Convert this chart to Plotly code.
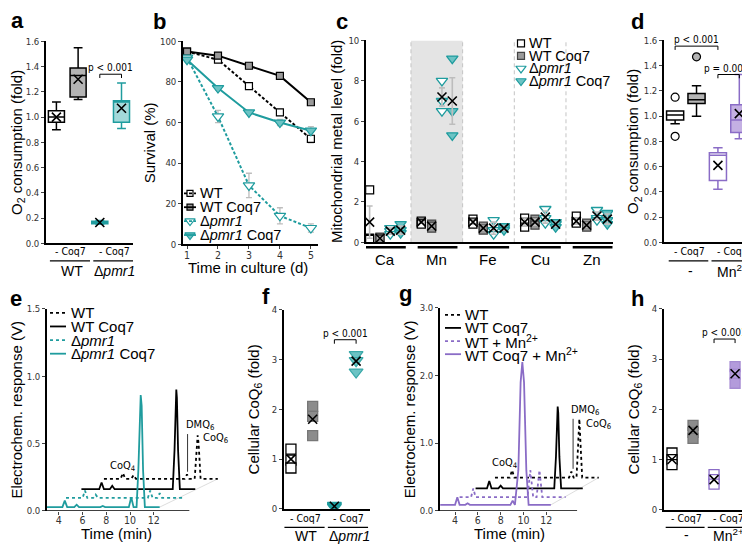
import plotly.graph_objects as go

W, H = 750, 544
TEAL = "#1f9c9e"
TEAL_L = "#a3d9da"
TEAL_M = "#6cc3c4"
PURP = "#8a6cc6"
PURP_L = "#c4b0e3"
GRAY = "#b4b4b4"
ERR = "#bdbdbd"
NARROW = "Liberation Sans Narrow, DejaVu Sans Condensed, Liberation Sans, Arial, sans-serif"
SANS = "Liberation Sans, Arial, sans-serif"
PMR1 = "Δ<i>pmr1</i>"

# ---- a: O2 consumption (WT -, WT Coq7, pmr1 -, pmr1 Coq7) ----
a_q1 = [0.96, 1.16, 0.155, 0.96]
a_med = [1.00, 1.33, 0.165, 1.12]
a_q3 = [1.05, 1.39, 0.175, 1.13]
a_lo = [0.90, 1.14, 0.15, 0.91]
a_hi = [1.12, 1.55, 0.18, 1.27]
a_mean = [1.00, 1.30, 0.165, 1.07]

# ---- b: survival (%) ----
b_days = [1, 2, 3, 4, 5]
b_wt = [95, 91, 78, 65, 52]
b_wt_err = [1, 1, 1, 1.5, 2]
b_wt_coq7 = [95, 93, 88, 83, 70]
b_wt_coq7_err = [1, 1, 1, 1, 1]
b_pmr1 = [92, 63, 29, 14, 8]
b_pmr1_err = [1, 3, 6, 4, 2]
b_pmr1_coq7 = [91, 77, 65, 60, 56]
b_pmr1_coq7_err = [1, 1, 1, 1.5, 2]

# ---- c: mitochondrial metal level (fold) ----
c_metals = ["Ca", "Mn", "Fe", "Cu", "Zn"]
c_wt = [[2.6, 0.2, 0.15], [1.05, 0.95, 0.9], [1.15, 1.0, 0.9], [1.2, 1.0, 0.75], [1.3, 1.0, 0.95]]
c_wt_coq7 = [[0.25, 0.2, 0.15], [0.9, 0.8, 0.7], [0.8, 0.65, 0.6], [1.15, 1.0, 0.85], [0.95, 0.8, 0.75]]
c_pmr1 = [[0.7, 0.55, 0.4], [8.0, 7.0, 6.5], [1.1, 0.6, 0.4], [1.65, 1.2, 0.95], [1.6, 1.2, 1.1]]
c_pmr1_coq7 = [[0.9, 0.6, 0.45], [9.1, 6.5, 5.3], [0.8, 0.7, 0.6], [1.0, 0.9, 0.75], [1.45, 1.1, 0.9]]
c_wt_mean = [1.0, 1.0, 1.0, 1.0, 1.05]
c_wt_sd = [0.8, 0.05, 0.1, 0.2, 0.15]
c_wt_coq7_mean = [0.2, 0.8, 0.7, 1.0, 0.85]
c_wt_coq7_sd = [0.05, 0.1, 0.1, 0.15, 0.1]
c_pmr1_mean = [0.55, 7.2, 0.7, 1.25, 1.3]
c_pmr1_sd = [0.15, 0.45, 0.3, 0.3, 0.2]
c_pmr1_coq7_mean = [0.6, 7.0, 0.7, 0.9, 1.15]
c_pmr1_coq7_sd = [0.2, 1.15, 0.1, 0.1, 0.25]

# ---- d: O2 consumption with Mn2+ (-, Coq7, Mn -, Mn Coq7) ----
d_q1 = [0.97, 1.10, 0.49, 0.87]
d_med = [1.01, 1.13, 0.69, 0.97]
d_q3 = [1.04, 1.18, 0.71, 1.09]
d_lo = [0.94, 1.00, 0.42, 0.82]
d_hi = [1.04, 1.24, 0.75, 1.33]
d_mean = [None, None, 0.61, 1.02]
d_out_cat = [0, 0, 1]
d_out_val = [1.15, 0.84, 1.47]

# ---- e: electrochemical traces ----
e_pc_t = [3.0, 4.3, 4.5, 4.7, 5.3, 5.5, 5.7, 7.5, 7.7, 7.9, 9.9, 10.1, 10.3, 10.55, 10.7, 10.82, 10.9, 10.98, 11.1, 11.25, 12.5]
e_pc_v = [0.027, 0.027, 0.075, 0.027, 0.027, 0.045, 0.027, 0.027, 0.035, 0.027, 0.027, 0.1, 0.027, 0.027, 0.3, 0.78, 0.86, 0.78, 0.3, 0.027, 0.027]
e_p_t = [4.6, 6.0, 6.2, 6.4, 6.9, 7.1, 7.3, 11.5, 11.7, 11.9, 12.3, 12.5, 12.7, 14.4]
e_p_v = [0.095, 0.095, 0.15, 0.095, 0.095, 0.12, 0.095, 0.095, 0.15, 0.095, 0.095, 0.13, 0.095, 0.095]
e_wc_t = [5.9, 7.4, 7.6, 7.8, 8.3, 8.5, 8.7, 13.6, 13.75, 13.85, 13.9, 13.95, 14.05, 14.2, 15.5]
e_wc_v = [0.16, 0.16, 0.21, 0.16, 0.16, 0.185, 0.16, 0.16, 0.45, 0.84, 0.9, 0.84, 0.45, 0.16, 0.16]
e_w_t = [7.8, 9.2, 9.4, 9.6, 10.1, 10.3, 10.5, 14.6, 14.8, 15.0, 15.45, 15.62, 15.7, 15.78, 15.95, 17.4]
e_w_v = [0.237, 0.237, 0.28, 0.237, 0.237, 0.265, 0.237, 0.237, 0.27, 0.237, 0.237, 0.5, 0.56, 0.5, 0.237, 0.237]

# ---- f: cellular CoQ6 (fold) ----
f_wt = [1.2, 0.98, 0.82]
f_wt_coq7 = [2.06, 1.86, 1.47]
f_pmr1 = [0.07, 0.05, 0.03]
f_pmr1_coq7 = [3.1, 2.98, 2.75]
f_mean = [1.0, 1.8, 0.05, 2.97]

# ---- g: electrochemical traces with Mn2+ ----
g_mc_t = [2.7, 4.0, 4.2, 4.4, 4.9, 5.1, 5.3, 8.85, 9.05, 9.25, 9.55, 9.75, 9.9, 10.05, 10.25, 10.45, 12.4]
g_mc_v = [0.087, 0.087, 0.2, 0.087, 0.087, 0.11, 0.087, 0.087, 0.15, 0.087, 0.6, 1.9, 2.2, 1.9, 0.6, 0.087, 0.087]
g_m_t = [4.4, 5.4, 5.6, 5.8, 10.35, 10.6, 10.85, 11.15, 11.4, 11.65, 13.7]
g_m_v = [0.2, 0.2, 0.33, 0.2, 0.2, 0.6, 0.2, 0.2, 0.6, 0.2, 0.2]
g_wc_t = [5.8, 6.8, 7.0, 7.2, 7.8, 8.0, 8.2, 12.7, 12.85, 12.95, 13.0, 13.05, 13.15, 13.3, 15.2]
g_wc_v = [0.33, 0.33, 0.44, 0.33, 0.33, 0.37, 0.33, 0.33, 0.8, 1.45, 1.54, 1.45, 0.8, 0.33, 0.33]
g_w_t = [7.5, 8.8, 9.0, 9.2, 14.0, 14.2, 14.4, 14.65, 14.8, 14.9, 15.0, 15.15, 16.6]
g_w_v = [0.49, 0.49, 0.6, 0.49, 0.49, 0.58, 0.49, 0.49, 1.0, 1.36, 1.0, 0.49, 0.49]

# ---- h: cellular CoQ6 with Mn2+ ----
h_ctrl = [1.13, 1.0, 0.9]
h_coq7 = [1.68, 1.54, 1.42]
h_mn = [0.7, 0.6, 0.51]
h_mn_coq7 = [2.85, 2.7, 2.52]
h_mean = [1.0, 1.58, 0.6, 2.71]

# panel frames in pixels: letter, x0, x1, ytop, ybottom, xrange, yrange, yticks, title standoff
PANELS = [
    ("a", 38, 125, 28, 234, [-0.48, 3.53], [0, 1.6], [0, 0.2, 0.4, 0.6, 0.8, 1.0, 1.2, 1.4, 1.6], 3),
    ("b", 175, 310, 28, 235, [0.87, 5.23], [0, 100], [0, 20, 40, 60, 80, 100], 1),
    ("c", 358, 605, 27, 233, [-0.37, 4.41], [0, 10], [0, 2, 4, 6, 8, 10], 2),
    ("d", 656, 745, 27, 233, [-0.52, 3.64], [0, 1.6], [0, 0.2, 0.4, 0.6, 0.8, 1.0, 1.2, 1.4, 1.6], 1),
    ("e", 39, 211, 301, 507, [3.0, 17.5], [0, 1.5], [0, 0.5, 1.0, 1.5], 3),
    ("f", 276, 362, 302, 505, [-0.32, 3.64], [0, 4], [0, 1, 2, 3, 4], 9),
    ("g", 432, 601, 300, 507, [2.68, 17.5], [0, 3], [0, 1.0, 2.0, 3.0], 0),
    ("h", 656, 742, 301, 506, [-0.38, 3.71], [0, 4], [0, 1, 2, 3, 4], 9),
]
YTITLES = ["O<sub>2</sub> consumption (fold)", "Survival (%)", "Mitochondrial metal level (fold)",
           "O<sub>2</sub> consumption (fold)", "Electrochem. response (V)", "Cellular CoQ<sub>6</sub> (fold)",
           "Electrochem. response (V)", "Cellular CoQ<sub>6</sub> (fold)"]
LETTERS = [(1, 7), (143, 8), (326, 8), (621, 8), (0, 290), (252, 288), (389, 285), (621, 290)]


def xa(n):
    return "x" if n == 1 else f"x{n}"


def ya(n):
    return "y" if n == 1 else f"y{n}"


fig = go.Figure()
layout = dict(width=W, height=H, margin=dict(l=0, r=0, t=0, b=0), paper_bgcolor="white",
              plot_bgcolor="rgba(0,0,0,0)", showlegend=False, font=dict(family=SANS, color="black", size=12))
annotations, shapes = [], []

for i, (let, x0, x1, yt, yb, xr, yr, yt_vals, so) in enumerate(PANELS):
    n = i + 1
    sfx = "" if n == 1 else str(n)
    one_dec = let in "adeg"
    layout["xaxis" + sfx] = dict(domain=[x0 / W, x1 / W], range=xr, anchor=ya(n), showgrid=False,
                                 zeroline=False, showline=True, linecolor="black", linewidth=1.6,
                                 showticklabels=False, ticks="", fixedrange=True)
    layout["yaxis" + sfx] = dict(domain=[1 - yb / H, 1 - yt / H], range=yr, anchor=xa(n), showgrid=False,
                                 zeroline=False, showline=True, linecolor="black", linewidth=1.6,
                                 ticks="outside", ticklen=3, tickwidth=1, tickvals=yt_vals,
                                 ticktext=[f"{v:.1f}" if one_dec else f"{v:g}" for v in yt_vals],
                                 tickfont=dict(family=NARROW, size=9.5, color="#333"), fixedrange=True,
                                 title=dict(text=YTITLES[i], font=dict(size=15), standoff=so))

# overlay in pixel units for panel letters, hand-made legends and label rows
layout["xaxis9"] = dict(domain=[0, 1], range=[0, W], anchor="y9", visible=False, fixedrange=True)
layout["yaxis9"] = dict(domain=[0, 1], range=[H, 0], anchor="x9", visible=False, fixedrange=True)
for i, (lx, ly) in enumerate(LETTERS):
    annotations.append(dict(text=f"<b>{PANELS[i][0]}</b>", x=lx, y=ly, xref="x9", yref="y9", showarrow=False,
                            xanchor="left", yanchor="middle", font=dict(size=22, family=SANS)))

# time axes (b, e, g) get tick labels; titles placed as text
for n, vals, title, tx, ty in [(2, [1, 2, 3, 4, 5], "Time in culture (d)", 240, 259),
                               (5, [4, 6, 8, 10, 12], "Time (min)", 108, 530),
                               (7, [4, 6, 8, 10, 12], "Time (min)", 501, 530)]:
    layout[f"xaxis{n}"].update(showticklabels=True, ticks="outside", ticklen=3, tickvals=vals,
                               ticklabelstandoff=-3,
                               tickfont=dict(family=NARROW, size=10.5, color="#333"))
    annotations.append(dict(text=title, x=tx, y=ty, xref="x9", yref="y9", showarrow=False,
                            font=dict(size=15)))
for n, tend in [(5, 15.0), (7, 14.7)]:
    layout[f"xaxis{n}"]["showline"] = False
    shapes.append(dict(type="line", xref=f"x{n}", yref=f"y{n}", x0=layout[f"xaxis{n}"]["range"][0], x1=tend,
                       y0=0, y1=0, line=dict(color="black", width=1.6)))


def mean_x(n, xs, ys, err=None):
    fig.add_trace(go.Scatter(x=xs, y=ys, mode="markers", xaxis=xa(n), yaxis=ya(n), hoverinfo="skip",
                             marker=dict(symbol="x-thin", size=9, line=dict(width=1.6, color="black")),
                             error_y=None if err is None else dict(type="data", array=err, color=ERR,
                                                                   thickness=1.6, width=3)))


def box(n, pos, q1, med, q3, lo, hi, fill, line, width=0.74):
    fig.add_trace(go.Box(x=[pos], q1=[q1], median=[med], q3=[q3], lowerfence=[lo], upperfence=[hi],
                         width=width, whiskerwidth=0.55, fillcolor=fill, line=dict(color=line, width=1.5),
                         xaxis=xa(n), yaxis=ya(n), hoverinfo="skip", boxpoints=False))


def bracket(n, c0, c1, yv, dy, text, shift=0):
    shapes.append(dict(type="path", xref=xa(n), yref=ya(n),
                       path=f"M {c0},{yv - dy} L {c0},{yv} L {c1},{yv} L {c1},{yv - dy}",
                       line=dict(color="black", width=1)))
    annotations.append(dict(text=text, x=(c0 + c1) / 2, y=yv, xref=xa(n), yref=ya(n), showarrow=False,
                            yanchor="bottom", yshift=-1, xshift=shift, font=dict(family=NARROW, size=10)))


def cat_labels(n, axis_y, groups, gap=29):
    for label, c0, c1 in groups:
        annotations.append(dict(text="- Coq7", x=c0 - 0.15, y=axis_y + 9, xref=xa(n), yref="y9",
                                xanchor="left", showarrow=False, font=dict(family=NARROW, size=10.5)))
        shapes.append(dict(type="line", xref=xa(n), yref="y9", x0=c0 - 0.3, x1=c1 + 0.55,
                           y0=axis_y + 19, y1=axis_y + 19, line=dict(color="black", width=1.3)))
        annotations.append(dict(text=label, x=(c0 + c1) / 2 + 0.2, y=axis_y + gap, xref=xa(n), yref="y9",
                                showarrow=False, font=dict(size=14)))


def legend(x_sym, x_text, y0, dy, items, half=6, fsize=15):
    for k, (label, col, dash, sym, fill, size) in enumerate(items):
        yy = y0 + k * dy
        if dash is not None:
            shapes.append(dict(type="line", xref="x9", yref="y9", x0=x_sym - half, x1=x_sym + half, y0=yy, y1=yy,
                               line=dict(color=col, width=1.8, dash=dash)))
        if sym is not None:
            fig.add_trace(go.Scatter(x=[x_sym], y=[yy], mode="markers", xaxis="x9", yaxis="y9", hoverinfo="skip",
                                     marker=dict(symbol=sym, size=size, color=fill, line=dict(color=col, width=1.2))))
        annotations.append(dict(text=label, x=x_text, y=yy, xref="x9", yref="y9", showarrow=False,
                                xanchor="left", yanchor="middle", font=dict(size=fsize)))


# ---- panel a ----
a_fill = ["white", GRAY, TEAL, TEAL_L]
a_line = ["black", "black", TEAL, TEAL]
for k in range(4):
    box(1, k, a_q1[k], a_med[k], a_q3[k], a_lo[k], a_hi[k], a_fill[k], a_line[k])
mean_x(1, [0, 1, 2, 3], a_mean)
bracket(1, 2, 3, 1.34, 0.03, "p < 0.001")
cat_labels(1, 233, [("WT", 0, 1), (PMR1, 2, 3)])

# ---- panel b ----
b_series = [
    ("WT", b_wt, b_wt_err, "black", "3px,2px", "square", "white", 7),
    ("WT Coq7", b_wt_coq7, b_wt_coq7_err, "black", "solid", "square", "#9a9a9a", 7),
    (PMR1, b_pmr1, b_pmr1_err, TEAL, "3px,2px", "triangle-down", "white", 10),
    (PMR1 + " Coq7", b_pmr1_coq7, b_pmr1_coq7_err, TEAL, "solid", "triangle-down", TEAL_M, 10),
]
for name, vals, err, col, dash, sym, fill, size in b_series:
    fig.add_trace(go.Scatter(x=b_days, y=vals, name=name, mode="lines+markers", xaxis="x2", yaxis="y2",
                             line=dict(color=col, width=2, dash=dash), hoverinfo="skip",
                             marker=dict(symbol=sym, size=size, color=fill, line=dict(color=col, width=1.2)),
                             error_y=dict(type="data", array=err, color=ERR, thickness=1.3, width=3)))
legend(182, 190, 183, 14.2, [(s[0], s[3], s[4], s[5], s[6], s[7] - 1) for s in b_series], half=6, fsize=14.5)

# ---- panel c ----
offs = [-0.3, -0.1, 0.1, 0.3]
c_series = [
    ("WT", c_wt, c_wt_mean, c_wt_sd, "square", "white", "black", 8),
    ("WT Coq7", c_wt_coq7, c_wt_coq7_mean, c_wt_coq7_sd, "square", "#9a9a9a", "#444", 8),
    (PMR1, c_pmr1, c_pmr1_mean, c_pmr1_sd, "triangle-down", "white", TEAL, 10),
    (PMR1 + " Coq7", c_pmr1_coq7, c_pmr1_coq7_mean, c_pmr1_coq7_sd, "triangle-down", TEAL_M, TEAL, 10),
]
shapes.append(dict(type="rect", xref="x3", yref="y3", x0=0.5, x1=1.5, y0=0, y1=10, fillcolor="#e4e4e4",
                   line_width=0, layer="below"))
for b in [0.5, 1.5, 2.5, 3.5]:
    shapes.append(dict(type="line", xref="x3", yref="y3", x0=b, x1=b, y0=0, y1=10, layer="below",
                       line=dict(color="#c4c4c4", width=1, dash="4px,3px")))
for j, (name, pts, mean, sd, sym, fill, col, size) in enumerate(c_series):
    xs, ys = [], []
    for m in range(len(c_metals)):
        for v in pts[m]:
            xs.append(m + offs[j])
            ys.append(v)
    fig.add_trace(go.Scatter(x=xs, y=ys, mode="markers", name=name, xaxis="x3", yaxis="y3", hoverinfo="skip",
                             marker=dict(symbol=sym, size=size, color=fill, line=dict(color=col, width=1.3))))
for j, (name, pts, mean, sd, sym, fill, col, size) in enumerate(c_series):
    mean_x(3, [m + offs[j] for m in range(len(c_metals))], mean, sd)
for m, metal in enumerate(c_metals):
    shapes.append(dict(type="line", xref="x3", yref="y9", x0=m - 0.37, x1=m + 0.4, y0=238, y1=238,
                       line=dict(color="black", width=2.5)))
    annotations.append(dict(text=metal, x=m, y=251, xref="x3", yref="y9", showarrow=False, font=dict(size=15)))
legend(513, 519, 30, 12.8, [(s[0], s[6], None, s[4], s[5], s[7] - 1) for s in c_series], fsize=14.5)

# ---- panel d ----
d_fill = ["white", GRAY, "white", PURP_L]
d_line = ["black", "black", PURP, PURP]
for k in range(4):
    box(4, k, d_q1[k], d_med[k], d_q3[k], d_lo[k], d_hi[k], d_fill[k], d_line[k], width=0.8)
fig.add_trace(go.Scatter(x=d_out_cat, y=d_out_val, mode="markers", xaxis="x4", yaxis="y4", hoverinfo="skip",
                         marker=dict(symbol="circle", size=8, color=["white", "white", GRAY],
                                     line=dict(color="black", width=1.2))))
mean_x(4, [0, 1, 2, 3], d_mean)
bracket(4, 0, 2, 1.555, 0.03, "p < 0.001")
bracket(4, 2, 3, 1.33, 0.03, "p = 0.002", shift=-2)
cat_labels(4, 233, [("-", 0, 1), ("Mn<sup>2+</sup>", 2, 3)])


# ---- chromatograms e and g ----
def trace_set(n, series):
    for name, t, v, col, dash in series:
        fig.add_trace(go.Scatter(x=t, y=v, name=name, mode="lines", xaxis=xa(n), yaxis=ya(n), hoverinfo="skip",
                                 line=dict(color=col, width=1.8, dash=dash)))
    ends = [(s[1][-1], s[2][-1]) for s in series]
    shapes.append(dict(type="line", xref=xa(n), yref=ya(n), x0=ends[-1][0], y0=ends[-1][1], x1=ends[0][0],
                       y1=ends[0][1], layer="below", line=dict(color="#d4d4d4", width=0.8)))


e_series = [("WT", e_w_t, e_w_v, "black", "dot"), ("WT Coq7", e_wc_t, e_wc_v, "black", "solid"),
            (PMR1, e_p_t, e_p_v, TEAL, "dot"), (PMR1 + " Coq7", e_pc_t, e_pc_v, TEAL, "solid")]
g_series = [("WT", g_w_t, g_w_v, "black", "dot"), ("WT Coq7", g_wc_t, g_wc_v, "black", "solid"),
            ("WT + Mn<sup>2+</sup>", g_m_t, g_m_v, PURP, "dot"),
            ("WT Coq7 + Mn<sup>2+</sup>", g_mc_t, g_mc_v, PURP, "solid")]
trace_set(5, e_series)
trace_set(7, g_series)
legend(50, 61, 305, 13.9, [(s[0], s[3], s[4], None, None, 0) for s in e_series], half=8, fsize=15)
legend(445, 455, 307, 13.4, [(s[0], s[3], s[4], None, None, 0) for s in g_series], half=8, fsize=15)

# peak labels: (CoQ4 text), (DMQ6 line x, bottom, top), (CoQ6 text)
for n, coq4, dmq, coq6 in [(5, (9.4, 0.33), (14.85, 0.29, 0.57), (16.0, 0.54)),
                           (7, (8.4, 0.71), (14.35, 0.62, 1.36), (15.35, 1.29))]:
    annotations.append(dict(text="CoQ<sub>4</sub>", x=coq4[0], y=coq4[1], xref=xa(n), yref=ya(n),
                            showarrow=False, font=dict(family=NARROW, size=11)))
    shapes.append(dict(type="line", xref=xa(n), yref=ya(n), x0=dmq[0], x1=dmq[0], y0=dmq[1], y1=dmq[2],
                       line=dict(color="black", width=0.8)))
    annotations.append(dict(text="DMQ<sub>6</sub>", x=dmq[0], y=dmq[2], xref=xa(n), yref=ya(n),
                            showarrow=False, yanchor="bottom", xanchor="left", xshift=-4,
                            font=dict(family=NARROW, size=11)))
    annotations.append(dict(text="CoQ<sub>6</sub>", x=coq6[0], y=coq6[1], xref=xa(n), yref=ya(n),
                            showarrow=False, xanchor="left", font=dict(family=NARROW, size=11)))

# ---- panel f ----
f_series = [(f_wt, "square", "white", "black"), (f_wt_coq7, "square", "#8c8c8c", "#777"),
            (f_pmr1, "triangle-down", TEAL, TEAL), (f_pmr1_coq7, "triangle-down", TEAL_M, "#3aa9a9")]
for k, (vals, sym, fill, col) in enumerate(f_series):
    fig.add_trace(go.Scatter(x=[k] * len(vals), y=vals, mode="markers", xaxis="x6", yaxis="y6", hoverinfo="skip",
                             marker=dict(symbol=sym, size=10 if sym == "square" else 12, color=fill,
                                         line=dict(color=col, width=1.3))))
mean_x(6, [0, 1, 2, 3], f_mean)
bracket(6, 2, 3, 3.4, 0.08, "p < 0.001")
cat_labels(6, 505, [("WT", 0, 1), (PMR1, 2, 3)], gap=28)

# ---- panel h ----
h_series = [(h_ctrl, "white", "black"), (h_coq7, "#8c8c8c", "#777"), (h_mn, "white", PURP),
            (h_mn_coq7, "#b39bdb", "#a58bd2")]
for k, (vals, fill, col) in enumerate(h_series):
    fig.add_trace(go.Scatter(x=[k] * len(vals), y=vals, mode="markers", xaxis="x8", yaxis="y8", hoverinfo="skip",
                             marker=dict(symbol="square", size=10, color=fill, line=dict(color=col, width=1.3))))
mean_x(8, [0, 1, 2, 3], h_mean)
bracket(8, 2, 3, 3.4, 0.08, "p < 0.001")
cat_labels(8, 505, [("-", 0, 1), ("Mn<sup>2+</sup>", 2, 3)], gap=27)

layout["annotations"] = annotations
layout["shapes"] = shapes
fig.update_layout(**layout)
fig.write_html("out.html")
